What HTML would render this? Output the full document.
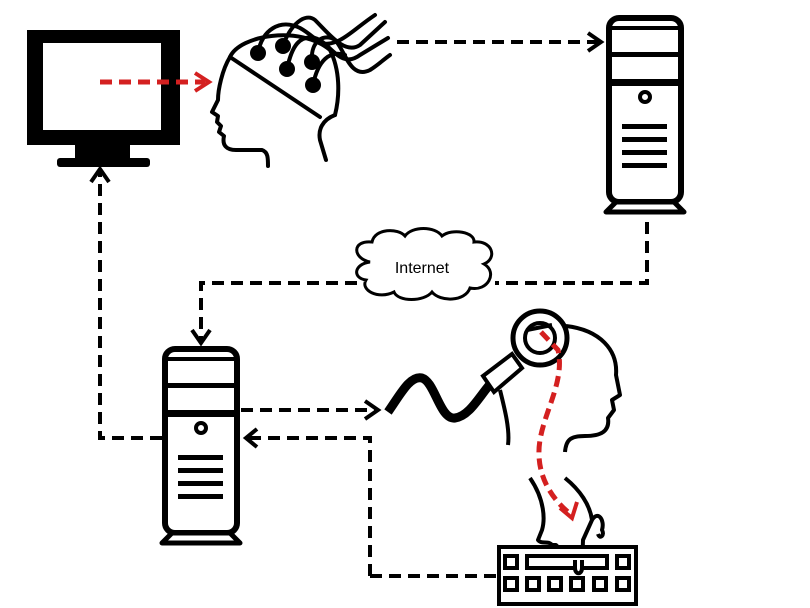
<!DOCTYPE html>
<html><head><meta charset="utf-8"><style>
html,body{margin:0;padding:0;background:#fff;}
svg{display:block;}
</style></head><body>
<svg width="810" height="608" viewBox="0 0 810 608" xmlns="http://www.w3.org/2000/svg">
<defs>
<g id="server">
  <rect x="3" y="3" width="72" height="184" rx="10" fill="#fff" stroke="#000" stroke-width="6"/>
  <rect x="6" y="11" width="66" height="4" fill="#000"/>
  <rect x="6" y="37" width="66" height="5" fill="#000"/>
  <rect x="6" y="64" width="66" height="7" fill="#000"/>
  <circle cx="39" cy="82" r="5" fill="none" stroke="#000" stroke-width="4"/>
  <rect x="16" y="109" width="45" height="5" fill="#000"/>
  <rect x="16" y="122" width="45" height="5" fill="#000"/>
  <rect x="16" y="135" width="45" height="5" fill="#000"/>
  <rect x="16" y="148" width="45" height="5" fill="#000"/>
  <path d="M10 187 L0 197 L78 197 L68 187 Z" fill="#fff" stroke="#000" stroke-width="5" stroke-linejoin="round"/>
</g>
</defs>

<!-- Monitor -->
<rect x="27" y="30" width="153" height="115" fill="#000"/>
<rect x="43" y="43" width="118" height="87" fill="#fff"/>
<rect x="75" y="144" width="55" height="16" fill="#000"/>
<rect x="57" y="158" width="93" height="9" rx="3" fill="#000"/>

<!-- red arrow monitor->head -->
<line x1="100" y1="82" x2="205" y2="82" stroke="#d42020" stroke-width="5" stroke-dasharray="12,7"/>
<path d="M195 73 L209 82 L195 91" fill="none" stroke="#d42020" stroke-width="4"/>

<!-- EEG head -->
<g fill="none" stroke="#000" stroke-width="4" stroke-linejoin="round" stroke-linecap="round">
  <path d="M230 57 C240 35 300 25 330 50 C340 70 340 95 335 115"/>
  <path d="M230 57 L320 117"/>
  <path d="M230 57 C222 70 218 90 218 100 L212 112 L218 116 L217 122 L221 126 L219 132 L224 136 C222 145 226 150 236 150 L262 150 C268 152 268 158 268 166"/>
  <path d="M335 115 C322 120 318 130 320 140 L326 160"/>
  <path d="M258 53 C262 30 280 18 300 28 C318 38 320 50 340 40 C350 35 360 25 375 15"/>
  <path d="M283 46 C290 25 305 12 315 20 C330 35 345 55 360 45 L385 22"/>
  <path d="M287 69 C292 45 300 35 315 38 C330 42 340 70 360 55 L388 38"/>
  <path d="M312 62 C310 40 325 33 335 40 C345 50 350 80 370 70 C378 65 383 60 390 55"/>
  <path d="M313 85 C318 60 330 50 345 55"/>
</g>
<g fill="#000">
  <circle cx="258" cy="53" r="8"/><circle cx="283" cy="46" r="8"/><circle cx="287" cy="69" r="8"/>
  <circle cx="312" cy="62" r="8"/><circle cx="313" cy="85" r="8"/>
</g>

<!-- Servers -->
<use href="#server" x="606" y="15"/>
<use href="#server" x="162" y="346"/>

<!-- dashed connectors -->
<g fill="none" stroke="#000" stroke-width="4" stroke-dasharray="12,7">
  <path d="M397 42 L598 42"/>
  <path d="M647 222 L647 283 L495 283"/>
  <path d="M357 283 L201 283 L201 340"/>
  <path d="M162 438 L100 438 L100 172"/>
  <path d="M241 410 L375 410"/>
  <path d="M370 576 L370 438 L249 438"/>
  <path d="M370 576 L497 576"/>
</g>
<g fill="none" stroke="#000" stroke-width="4">
  <path d="M588 33 L601 42 L588 51"/>
  <path d="M192 330 L201 343 L210 330"/>
  <path d="M91 182 L100 169 L109 182"/>
  <path d="M365 401 L378 410 L365 419"/>
  <path d="M257 429 L246 438 L257 447"/>
</g>

<!-- Cloud -->
<path d="M370 262 C352 258 352 240 372 242 C375 228 398 228 405 236 C412 226 435 226 442 236 C452 228 475 232 474 242 C492 240 498 258 484 264 C498 272 488 292 470 288 C465 302 440 302 432 292 C424 302 398 302 394 292 C378 300 360 290 366 280 C352 278 354 264 370 262 Z" fill="#fff" stroke="#000" stroke-width="3"/>
<text x="422" y="273" font-family="Liberation Sans, sans-serif" font-size="16" text-anchor="middle" fill="#000">Internet</text>

<!-- cable -->
<path d="M388 412 C400 395 410 375 422 378 C435 382 440 420 455 418 C470 416 480 395 492 382" fill="none" stroke="#000" stroke-width="9"/>
<path d="M483 376 L512 354 L522 368 L494 392 Z" fill="#fff" stroke="#000" stroke-width="4"/>
<circle cx="540" cy="338" r="27" fill="#fff" stroke="#000" stroke-width="5"/>
<circle cx="540" cy="338" r="15" fill="#fff" stroke="#000" stroke-width="4"/>
<line x1="527" y1="330" x2="552" y2="325" stroke="#000" stroke-width="4"/>

<!-- head 2 -->
<g fill="none" stroke="#000" stroke-width="4" stroke-linejoin="round">
  <path d="M566 326 C600 330 618 350 616 375 L620 395 L612 400 L614 410 L608 418 C610 432 600 436 585 436 C570 436 566 440 565 452"/>
  <path d="M500 390 C505 410 510 430 508 445"/>
  <path d="M530 478 C545 500 545 520 542 530 L538 540 C542 545 548 540 552 545 L556 545 C560 550 565 548 568 555 L575 554 L575 570 C575 577 582 577 582 570 L583 540 L592 520 C598 510 605 520 602 530 C605 535 600 540 598 534"/>
  <path d="M565 478 C580 490 590 505 592 520"/>
</g>

<!-- red curve arrow -->
<path d="M541 332 L558 350 C565 380 545 410 540 440 C535 470 548 495 568 512" fill="none" stroke="#d42020" stroke-width="5" stroke-dasharray="11,6"/>
<path d="M560 508 L572 518 L577 502" fill="none" stroke="#d42020" stroke-width="4"/>

<!-- keyboard -->
<rect x="499" y="547" width="137" height="57" fill="#fff" stroke="#000" stroke-width="4"/>
<g fill="#fff" stroke="#000" stroke-width="4">
  <rect x="505" y="556" width="12" height="12"/>
  <rect x="527" y="556" width="80" height="12"/>
  <rect x="617" y="556" width="12" height="12"/>
  <rect x="505" y="578" width="12" height="12"/>
  <rect x="527" y="578" width="12" height="12"/>
  <rect x="549" y="578" width="12" height="12"/>
  <rect x="571" y="578" width="12" height="12"/>
  <rect x="594" y="578" width="12" height="12"/>
  <rect x="617" y="578" width="12" height="12"/>
</g>
<path d="M575 560 L575 568 C575 575 582 575 582 568 L582 560" fill="#fff" stroke="#000" stroke-width="4"/>
</svg>
</body></html>
